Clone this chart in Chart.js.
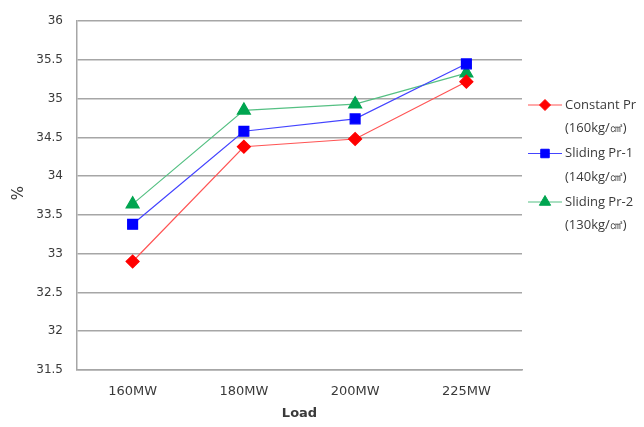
<!DOCTYPE html>
<html>
<head>
<meta charset="utf-8">
<script src="https://cdn.jsdelivr.net/npm/chart.js@4/dist/chart.umd.min.js"></script>
<style>
  html, body { margin: 0; padding: 0; background: #fff; overflow: hidden; }
  canvas { display: block; }
</style>
</head>
<body>
<canvas id="c" width="644" height="427" style="width:644px;height:427px"></canvas>
<script>
const categories = ['160MW', '180MW', '200MW', '225MW'];
const constantPr = [32.90, 34.38, 34.48, 35.22];
const slidingPr1 = [33.38, 34.58, 34.74, 35.45];
const slidingPr2 = [33.64, 34.85, 34.93, 35.33];
const seriesLabels = [
  ['Constant Pr', '(160kg/㎠)'],
  ['Sliding Pr-1', '(140kg/㎠)'],
  ['Sliding Pr-2', '(130kg/㎠)']
];
const xTitle = 'Load';
const yTitle = '%';
const yMin = 31.5, yMax = 36, yStep = 0.5;

const textColor = '#3a3a3a';
const gridColor = '#a6a6a6';

const customPlugin = {
  id: 'customDecor',
  afterDraw(chart) {
    const ctx = chart.ctx;
    const area = chart.chartArea;
    ctx.save();
    ctx.fillStyle = textColor;
    ctx.font = 'bold 13px "DejaVu Sans"';
    ctx.textAlign = 'center';
    ctx.textBaseline = 'middle';
    ctx.fillText(xTitle, (area.left + area.right) / 2, 414);
    ctx.save();
    ctx.translate(19, 193);
    ctx.rotate(-Math.PI / 2);
    ctx.font = '15px "DejaVu Sans"';
    ctx.fillText(yTitle, 0, 0);
    ctx.restore();
    const x0 = 528, x1 = 562, tx = 565;
    let y = 105;
    chart.data.datasets.forEach((ds, i) => {
      ctx.strokeStyle = ds.borderColor;
      ctx.lineWidth = 1.2;
      ctx.beginPath();
      ctx.moveTo(x0, y);
      ctx.lineTo(x1, y);
      ctx.stroke();
      ctx.fillStyle = ds.pointBackgroundColor;
      ctx.strokeStyle = ds.pointBorderColor;
      ctx.lineWidth = 1;
      Chart.helpers.drawPoint(ctx, {
        pointStyle: ds.pointStyle,
        radius: ds.pointRadius - 1,
        rotation: 0,
        borderWidth: 1
      }, (x0 + x1) / 2, y);
      ctx.fillStyle = textColor;
      ctx.font = '13px "Open Sans"';
      ctx.textAlign = 'left';
      ctx.textBaseline = 'middle';
      const lines = seriesLabels[i];
      ctx.fillText(lines[0], tx, y);
      ctx.fillText(lines[1], tx, y + 23.5);
      y += 48.5;
    });
    ctx.restore();
  }
};

new Chart(document.getElementById('c'), {
  type: 'line',
  data: {
    labels: categories,
    datasets: [
      {
        label: seriesLabels[0].join(' '),
        data: constantPr,
        borderColor: '#ff5555',
        pointBackgroundColor: '#ff0000',
        pointBorderColor: '#ff0000',
        pointStyle: 'rectRot',
        pointRadius: 6.5,
        borderWidth: 1.2
      },
      {
        label: seriesLabels[1].join(' '),
        data: slidingPr1,
        borderColor: '#4444ff',
        pointBackgroundColor: '#0000ff',
        pointBorderColor: '#0000ff',
        pointStyle: 'rect',
        pointRadius: 7,
        borderWidth: 1.2
      },
      {
        label: seriesLabels[2].join(' '),
        data: slidingPr2,
        borderColor: '#55c083',
        pointBackgroundColor: '#00a550',
        pointBorderColor: '#00a550',
        pointStyle: 'triangle',
        pointRadius: 7.5,
        borderWidth: 1.2
      }
    ]
  },
  options: {
    responsive: false,
    maintainAspectRatio: false,
    animation: false,
    devicePixelRatio: 1,
    layout: { padding: { left: 0, top: 16, right: 122, bottom: 0 } },
    plugins: {
      legend: { display: false },
      tooltip: { enabled: false }
    },
    elements: { line: { tension: 0 } },
    scales: {
      x: {
        offset: true,
        grid: { display: false, drawTicks: false },
        border: { display: true, color: gridColor, width: 1.5 },
        ticks: { color: textColor, font: { family: '"DejaVu Sans"', size: 13 }, padding: 14, maxRotation: 0, autoSkip: false },
        afterFit(scale) { scale.height = 57; }
      },
      y: {
        min: yMin,
        max: yMax,
        grid: { color: gridColor, lineWidth: 1.5, drawTicks: false },
        border: { display: true, color: gridColor, width: 1.5 },
        ticks: {
          stepSize: yStep, color: textColor,
          font: { family: '"DejaVu Sans"', size: 12 }, padding: 14, autoSkip: false,
          callback: (v) => String(v)
        },
        afterFit(scale) { scale.width = 77; }
      }
    }
  },
  plugins: [customPlugin]
});
</script>
</body>
</html>
